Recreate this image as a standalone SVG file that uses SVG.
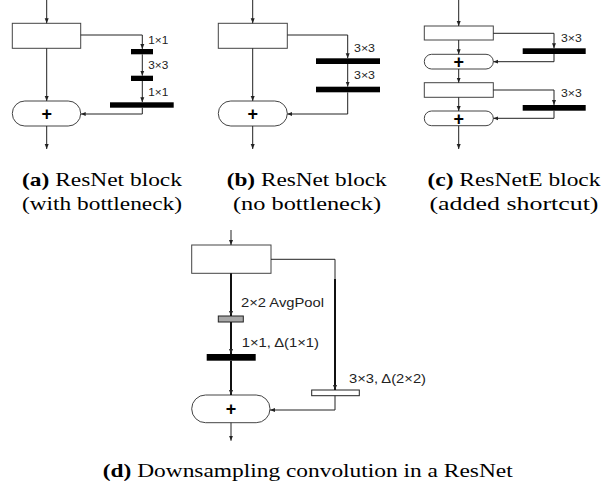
<svg xmlns="http://www.w3.org/2000/svg" width="615" height="486" viewBox="0 0 615 486">
<defs>
<marker id="ah" viewBox="0 0 10 8" markerWidth="5" markerHeight="4.5" refX="10" refY="4" orient="auto" markerUnits="userSpaceOnUse">
<path d="M0,0 L10,4 L0,8 z" fill="#222"/>
</marker>
<style>
.ln{fill:none;stroke:#222;stroke-width:1;marker-end:url(#ah)}
.lp{fill:none;stroke:#222;stroke-width:1}
.th{fill:none;stroke:#111;stroke-width:2;marker-end:url(#ah)}
.box{fill:#fff;stroke:#444;stroke-width:1}
.bar{fill:#000;stroke:none}
.lab{font-family:"Liberation Sans",Arial,sans-serif;font-size:10.5px;fill:#222}
.labd{font-family:"Liberation Sans",Arial,sans-serif;font-size:12.5px;fill:#222}
.plus{font-family:"Liberation Sans",Arial,sans-serif;font-size:18px;font-weight:bold;fill:#000;text-anchor:middle}
.cap{font-family:"Liberation Serif","Times New Roman",serif;font-size:19px;fill:#000;text-anchor:middle}
</style>
</defs>
<rect width="615" height="486" fill="#fff"/>

<!-- Panel (a) -->
<g id="a-block"><rect class="box" x="12.3" y="23.3" width="68.4" height="25"/></g>
<g id="a-c1"><rect class="bar" x="131" y="49" width="22" height="5.3"/><text class="lab" x="148.3" y="44.3" textLength="20" lengthAdjust="spacingAndGlyphs">1×1</text></g>
<g id="a-c2"><rect class="bar" x="131" y="75.7" width="22" height="5.3"/><text class="lab" x="148.3" y="69" textLength="20" lengthAdjust="spacingAndGlyphs">3×3</text></g>
<g id="a-c3"><rect class="bar" x="110" y="102.3" width="63.7" height="5.4"/><text class="lab" x="148.3" y="95.7" textLength="20" lengthAdjust="spacingAndGlyphs">1×1</text></g>
<g id="a-add"><rect class="box" x="12.3" y="101" width="68.4" height="25" rx="12.5"/><text class="plus" x="46.7" y="119.6">+</text></g>

<!-- Panel (b) -->
<g id="b-block"><rect class="box" x="218.3" y="23.3" width="69" height="25"/></g>
<g id="b-c1"><rect class="bar" x="316" y="58.3" width="64" height="5.7"/><text class="lab" x="354" y="51.7" textLength="21" lengthAdjust="spacingAndGlyphs">3×3</text></g>
<g id="b-c2"><rect class="bar" x="316" y="86.7" width="64" height="5.6"/><text class="lab" x="354" y="79" textLength="21" lengthAdjust="spacingAndGlyphs">3×3</text></g>
<g id="b-add"><rect class="box" x="218.3" y="101" width="69" height="25" rx="12.5"/><text class="plus" x="252.7" y="119.6">+</text></g>

<!-- Panel (c) -->
<g id="c-block1"><rect class="box" x="424.3" y="26" width="69" height="14"/></g>
<g id="c-c1"><rect class="bar" x="522.7" y="48.3" width="63" height="5.7"/><text class="lab" x="561" y="42.3" textLength="20.7" lengthAdjust="spacingAndGlyphs">3×3</text></g>
<g id="c-add1"><rect class="box" x="424.3" y="54.3" width="69" height="14.7" rx="7.3"/><text class="plus" x="458.7" y="67.8">+</text></g>
<g id="c-block2"><rect class="box" x="424.3" y="82.7" width="69" height="14.6"/></g>
<g id="c-c2"><rect class="bar" x="522.7" y="105" width="63" height="5.7"/><text class="lab" x="561" y="97.3" textLength="20.7" lengthAdjust="spacingAndGlyphs">3×3</text></g>
<g id="c-add2"><rect class="box" x="424.3" y="111" width="69" height="14.7" rx="7.3"/><text class="plus" x="458.7" y="124.5">+</text></g>

<!-- Panel (d) -->
<g id="d-block"><rect class="box" x="191.7" y="245" width="79.3" height="28.3"/></g>
<g id="d-pool"><rect x="218.3" y="316" width="25" height="6" fill="#a8a8a8" stroke="#222" stroke-width="1"/><text class="labd" x="241" y="307.3" textLength="83" lengthAdjust="spacingAndGlyphs">2×2 AvgPool</text></g>
<g id="d-c1"><rect class="bar" x="206.7" y="354" width="49" height="6.7"/><text class="labd" x="241.7" y="346.7" textLength="77.3" lengthAdjust="spacingAndGlyphs">1×1, Δ(1×1)</text></g>
<g id="d-c3"><rect x="311.7" y="390" width="47.6" height="5.7" fill="#fff" stroke="#222" stroke-width="1"/><text class="labd" x="349" y="382.7" textLength="77" lengthAdjust="spacingAndGlyphs">3×3, Δ(2×2)</text></g>
<g id="d-add"><rect class="box" x="191.7" y="395" width="78.3" height="27.7" rx="13.8"/><text class="plus" x="231" y="415">+</text></g>

<g id="connectors">
<!-- (a) -->
<path class="ln" d="M46.7,0 V23.3"/>
<path class="ln" d="M46.7,48.3 V101"/>
<path class="ln" d="M46.7,126 V149"/>
<path class="ln" d="M80.7,35 H142.3 V49"/>
<path class="ln" d="M142.3,54.3 V75.7"/>
<path class="ln" d="M142.3,81 V102.3"/>
<path class="ln" d="M142.3,107.7 V114 H80.7"/>
<!-- (b) -->
<path class="ln" d="M252.7,0 V23.3"/>
<path class="ln" d="M252.7,48.3 V101"/>
<path class="ln" d="M252.7,126 V149"/>
<path class="ln" d="M287.3,35 H347.7 V58.3"/>
<path class="ln" d="M347.7,64 V86.7"/>
<path class="ln" d="M347.7,92.3 V114 H287.3"/>
<!-- (c) -->
<path class="ln" d="M458.7,0 V26"/>
<path class="ln" d="M458.7,40 V54.3"/>
<path class="ln" d="M458.7,69 V82.7"/>
<path class="ln" d="M458.7,97.3 V111"/>
<path class="ln" d="M458.7,125.7 V149"/>
<path class="ln" d="M493.3,33.3 H554 V48.3"/>
<path class="ln" d="M554,54 V61.7 H493.3"/>
<path class="ln" d="M493.3,90 H554 V105"/>
<path class="ln" d="M554,110.7 V118.3 H493.3"/>
<!-- (d) -->
<path class="ln" d="M231,230 V245"/>
<path class="th" d="M231,273.3 V316"/>
<path class="th" d="M231,322 V354"/>
<path class="th" d="M231,360.7 V395"/>
<path class="ln" d="M231,422.7 V440.7"/>
<path class="lp" d="M271,259.3 H335 V279"/>
<path class="th" d="M335,279 V390"/>
<path class="ln" d="M335,395.7 V410 H270"/>
</g>

<!-- Captions -->
<text class="cap" x="102" y="186" textLength="160" lengthAdjust="spacingAndGlyphs"><tspan font-weight="bold">(a)</tspan> ResNet block</text>
<text class="cap" x="102" y="209.5" textLength="160" lengthAdjust="spacingAndGlyphs">(with bottleneck)</text>
<text class="cap" x="306.7" y="186" textLength="160" lengthAdjust="spacingAndGlyphs"><tspan font-weight="bold">(b)</tspan> ResNet block</text>
<text class="cap" x="307" y="209.5" textLength="148" lengthAdjust="spacingAndGlyphs">(no bottleneck)</text>
<text class="cap" x="514" y="186" textLength="173" lengthAdjust="spacingAndGlyphs"><tspan font-weight="bold">(c)</tspan> ResNetE block</text>
<text class="cap" x="514" y="209.5" textLength="169" lengthAdjust="spacingAndGlyphs">(added shortcut)</text>
<text class="cap" x="307.7" y="476.7" textLength="410" lengthAdjust="spacingAndGlyphs"><tspan font-weight="bold">(d)</tspan> Downsampling convolution in a ResNet</text>
</svg>
